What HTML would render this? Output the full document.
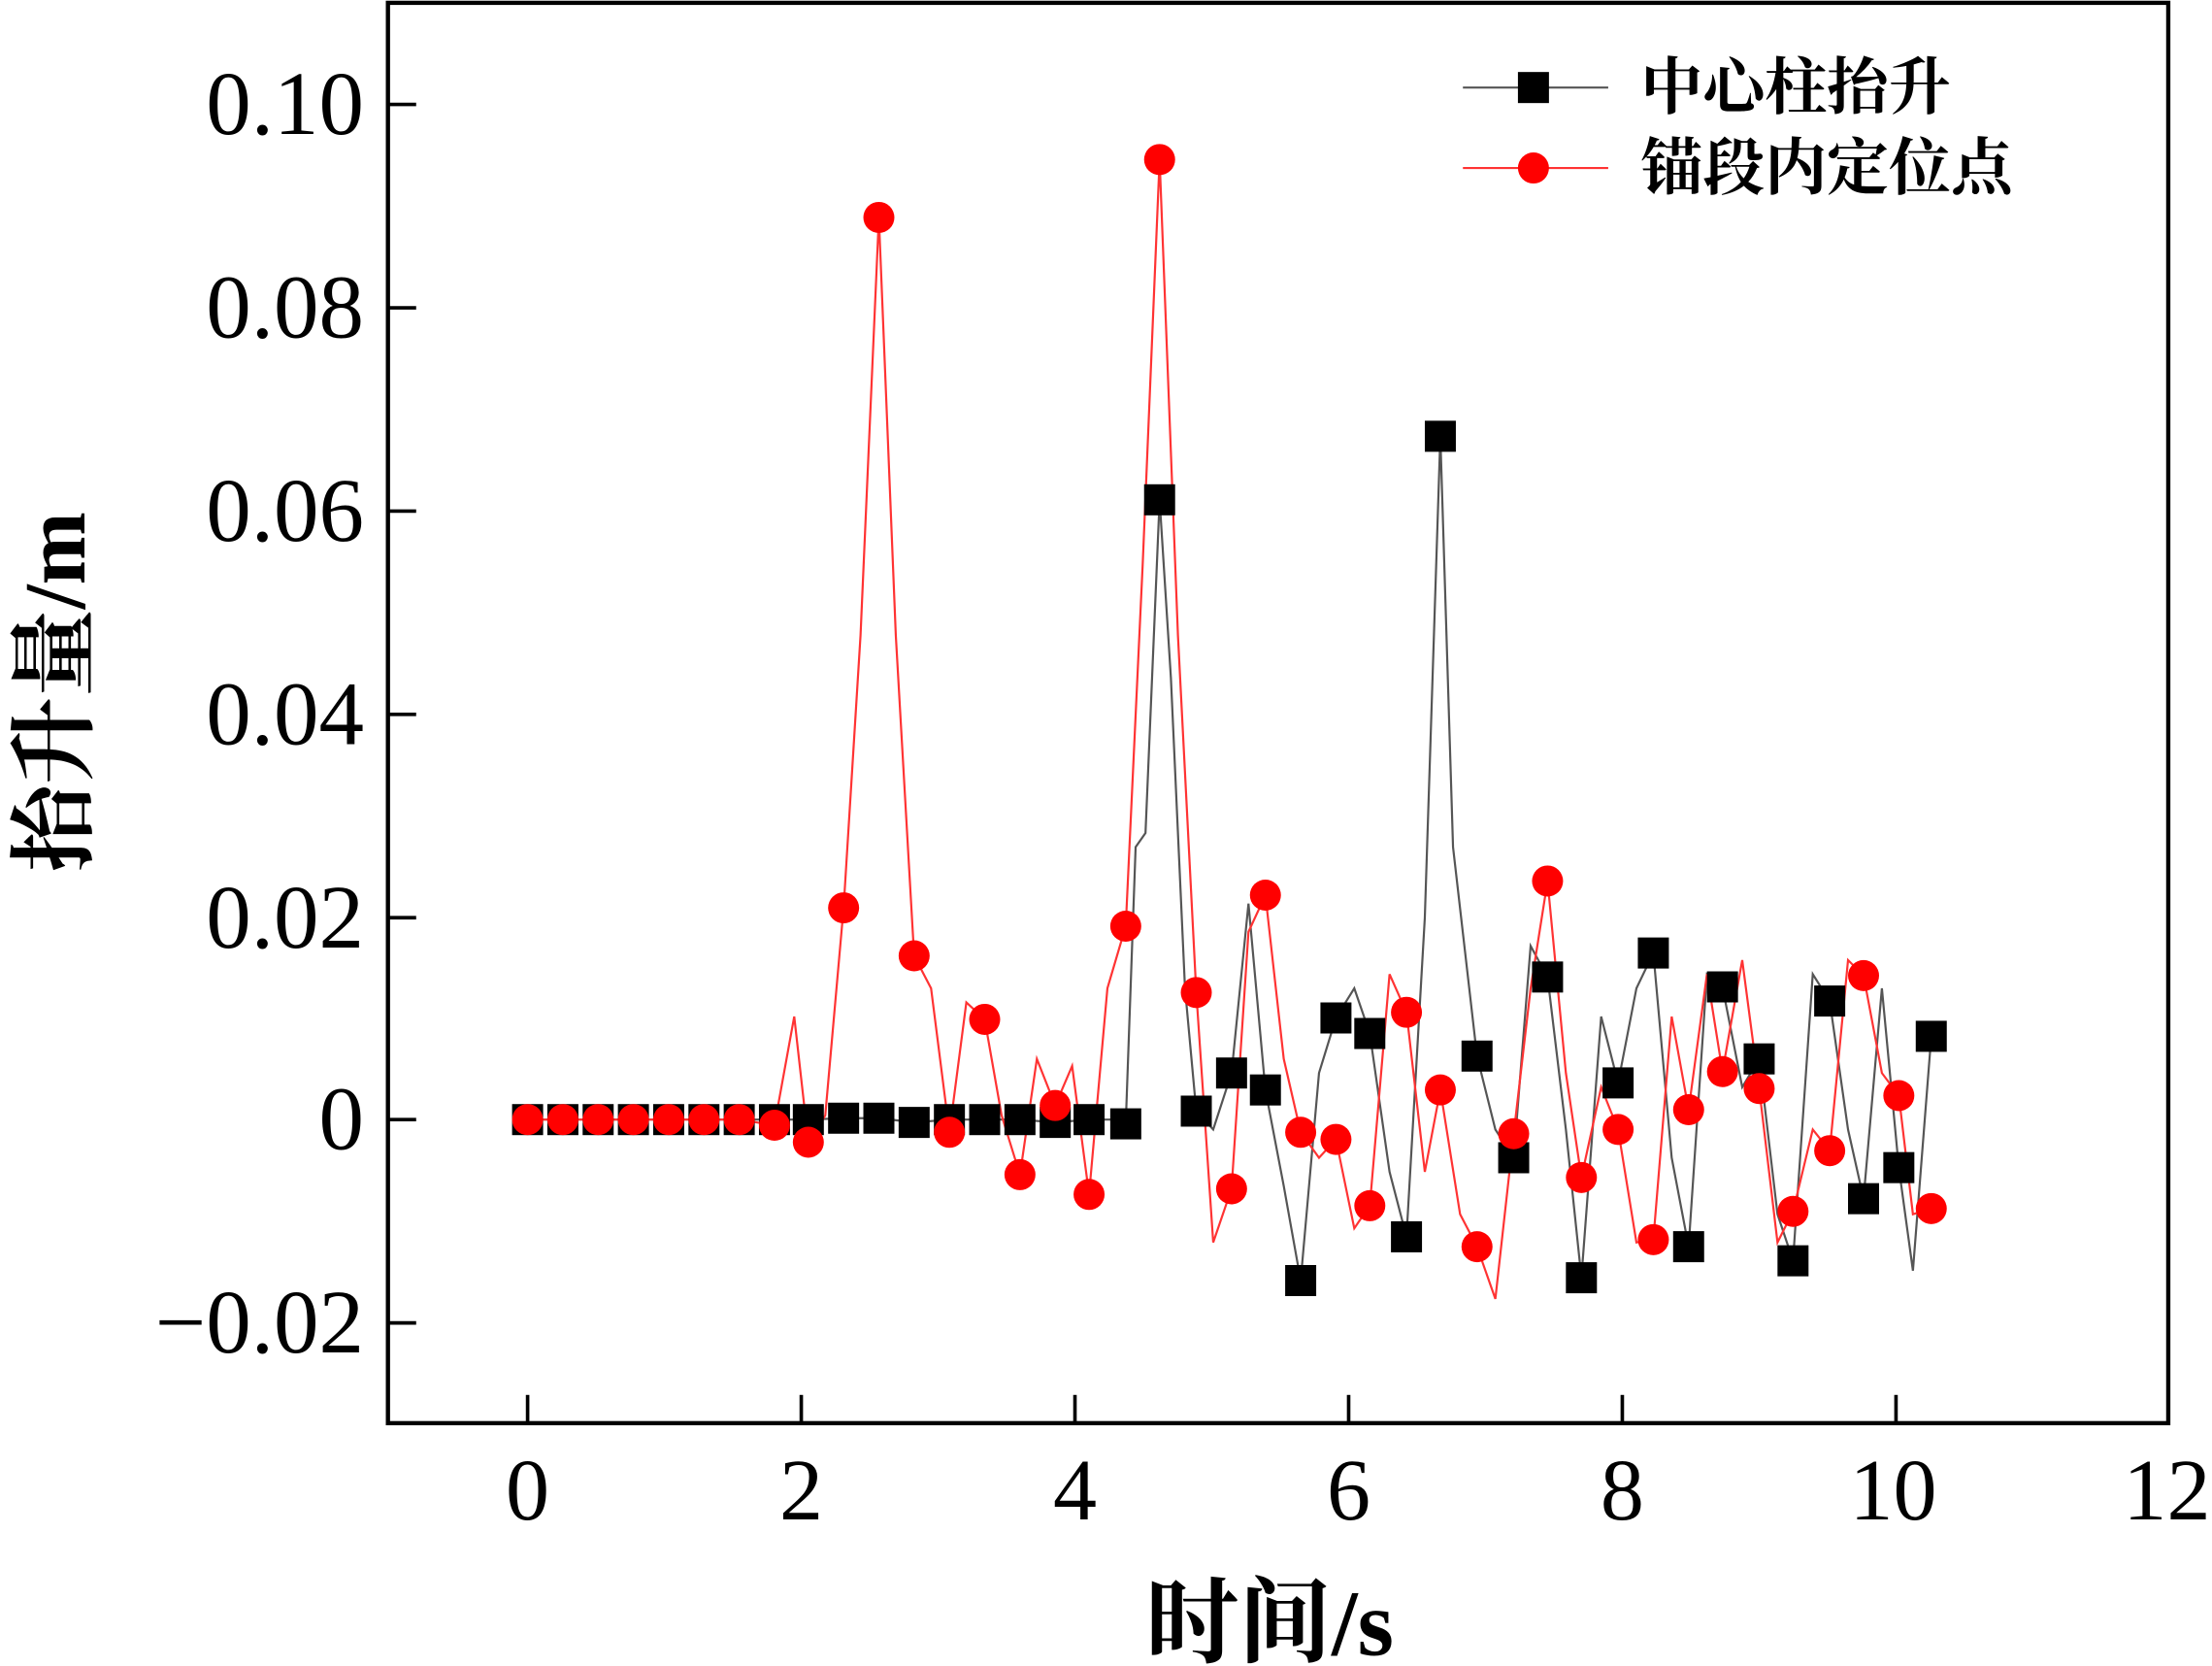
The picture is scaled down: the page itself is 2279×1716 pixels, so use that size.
<!DOCTYPE html>
<html><head><meta charset="utf-8"><style>
html,body{margin:0;padding:0;background:#fff;}
svg{display:block;}
text{font-family:"Liberation Serif","Noto Serif CJK SC",serif;fill:#000;}
.cj{font-family:"Liberation Serif","Noto Serif CJK SC",serif;font-weight:bold;}
</style></head><body>
<svg width="2279" height="1716" viewBox="0 0 1568 1180" preserveAspectRatio="none" xmlns="http://www.w3.org/2000/svg">
<rect x="275" y="2" width="1262" height="1006" fill="none" stroke="#000" stroke-width="3"/>
<g stroke="#000" stroke-width="2.5">
<line x1="374" y1="1008" x2="374" y2="988"/><line x1="568" y1="1008" x2="568" y2="988"/><line x1="762" y1="1008" x2="762" y2="988"/><line x1="956" y1="1008" x2="956" y2="988"/><line x1="1150" y1="1008" x2="1150" y2="988"/><line x1="1344" y1="1008" x2="1344" y2="988"/>
<line x1="275" y1="74" x2="295" y2="74"/><line x1="275" y1="218" x2="295" y2="218"/><line x1="275" y1="362" x2="295" y2="362"/><line x1="275" y1="506" x2="295" y2="506"/><line x1="275" y1="650" x2="295" y2="650"/><line x1="275" y1="793" x2="295" y2="793"/><line x1="275" y1="937" x2="295" y2="937"/>
</g>
<g font-size="62" text-anchor="middle">
<text x="374" y="1076">0</text><text x="568" y="1076">2</text><text x="762" y="1076">4</text><text x="956" y="1076">6</text><text x="1150" y="1076">8</text><text x="1342" y="1076">10</text><text x="1536" y="1076">12</text>
</g>
<g font-size="64" text-anchor="end">
<text x="258" y="95">0.10</text><text x="258" y="239">0.08</text><text x="258" y="383">0.06</text><text x="258" y="527">0.04</text><text x="258" y="671">0.02</text><text x="258" y="814">0</text><text x="258" y="958">−0.02</text>
</g>
<text class="cj" x="900" y="1172" font-size="66" text-anchor="middle">时间/s</text>
<text class="cj" x="0" y="0" font-size="62" text-anchor="middle" transform="translate(60,490) rotate(-90)">抬升量/m</text>
<polyline fill="none" stroke="#555" stroke-width="1.5" points="374,793 399,793 424,793 449,793 474,793 499,793 524,793 549,793 573,793 598,792 623,792 648,795 673,793 698,793 723,793 748,795 772,793 790,793 798,796 805,600 812,590 822,354 830,480 840,700 848,787 860,800 873,760 885,640 897,772 910,840 922,907 935,760 947,721 960,700 971,732 985,830 997,876 1010,650 1021,309 1030,600 1047,748 1060,800 1073,820 1085,670 1097,692 1110,800 1121,905 1135,720 1147,767 1160,700 1172,675 1185,820 1197,883 1210,690 1221,699 1235,770 1247,750 1260,860 1271,893 1285,690 1297,709 1310,800 1321,849 1334,700 1346,827 1356,900 1369,734"/>
<polyline fill="none" stroke="#f33" stroke-width="1.5" points="374,793 399,793 424,793 449,793 474,793 499,793 524,793 549,797 563,720 573,809 585,790 598,643 610,450 623,154 635,450 648,677 660,700 673,802 685,710 698,722 710,790 723,832 735,750 748,783 760,755 772,846 785,700 798,656 810,400 822,113 835,450 848,703 860,880 873,842 885,660 897,634 910,750 922,802 935,820 947,807 960,870 971,854 985,690 997,717 1010,830 1021,772 1035,860 1047,883 1060,920 1073,803 1085,700 1097,624 1110,760 1121,834 1135,770 1147,800 1160,880 1172,878 1185,720 1197,786 1210,690 1221,759 1235,680 1247,771 1260,880 1271,858 1285,800 1297,815 1310,680 1321,691 1334,760 1346,776 1356,860 1369,856"/>
<g fill="#000">
<rect x="363" y="782" width="22" height="22"/><rect x="388" y="782" width="22" height="22"/><rect x="413" y="782" width="22" height="22"/><rect x="438" y="782" width="22" height="22"/><rect x="463" y="782" width="22" height="22"/><rect x="488" y="782" width="22" height="22"/><rect x="513" y="782" width="22" height="22"/><rect x="538" y="782" width="22" height="22"/><rect x="562" y="782" width="22" height="22"/><rect x="587" y="781" width="22" height="22"/><rect x="612" y="781" width="22" height="22"/><rect x="637" y="784" width="22" height="22"/><rect x="662" y="782" width="22" height="22"/><rect x="687" y="782" width="22" height="22"/><rect x="712" y="782" width="22" height="22"/><rect x="737" y="784" width="22" height="22"/><rect x="761" y="782" width="22" height="22"/><rect x="787" y="785" width="22" height="22"/><rect x="811" y="343" width="22" height="22"/><rect x="837" y="776" width="22" height="22"/><rect x="862" y="749" width="22" height="22"/><rect x="886" y="761" width="22" height="22"/><rect x="911" y="896" width="22" height="22"/><rect x="936" y="710" width="22" height="22"/><rect x="960" y="721" width="22" height="22"/><rect x="986" y="865" width="22" height="22"/><rect x="1010" y="298" width="22" height="22"/><rect x="1036" y="737" width="22" height="22"/><rect x="1062" y="809" width="22" height="22"/><rect x="1086" y="681" width="22" height="22"/><rect x="1110" y="894" width="22" height="22"/><rect x="1136" y="756" width="22" height="22"/><rect x="1161" y="664" width="22" height="22"/><rect x="1186" y="872" width="22" height="22"/><rect x="1210" y="688" width="22" height="22"/><rect x="1236" y="739" width="22" height="22"/><rect x="1260" y="882" width="22" height="22"/><rect x="1286" y="698" width="22" height="22"/><rect x="1310" y="838" width="22" height="22"/><rect x="1335" y="816" width="22" height="22"/><rect x="1358" y="723" width="22" height="22"/>
</g>
<g fill="#f00">
<circle cx="374" cy="793" r="11"/><circle cx="399" cy="793" r="11"/><circle cx="424" cy="793" r="11"/><circle cx="449" cy="793" r="11"/><circle cx="474" cy="793" r="11"/><circle cx="499" cy="793" r="11"/><circle cx="524" cy="793" r="11"/><circle cx="549" cy="797" r="11"/><circle cx="573" cy="809" r="11"/><circle cx="598" cy="643" r="11"/><circle cx="623" cy="154" r="11"/><circle cx="648" cy="677" r="11"/><circle cx="673" cy="802" r="11"/><circle cx="698" cy="722" r="11"/><circle cx="723" cy="832" r="11"/><circle cx="748" cy="783" r="11"/><circle cx="772" cy="846" r="11"/><circle cx="798" cy="656" r="11"/><circle cx="822" cy="113" r="11"/><circle cx="848" cy="703" r="11"/><circle cx="873" cy="842" r="11"/><circle cx="897" cy="634" r="11"/><circle cx="922" cy="802" r="11"/><circle cx="947" cy="807" r="11"/><circle cx="971" cy="854" r="11"/><circle cx="997" cy="717" r="11"/><circle cx="1021" cy="772" r="11"/><circle cx="1047" cy="883" r="11"/><circle cx="1073" cy="803" r="11"/><circle cx="1097" cy="624" r="11"/><circle cx="1121" cy="834" r="11"/><circle cx="1147" cy="800" r="11"/><circle cx="1172" cy="878" r="11"/><circle cx="1197" cy="786" r="11"/><circle cx="1221" cy="759" r="11"/><circle cx="1247" cy="771" r="11"/><circle cx="1271" cy="858" r="11"/><circle cx="1297" cy="815" r="11"/><circle cx="1321" cy="691" r="11"/><circle cx="1346" cy="776" r="11"/><circle cx="1369" cy="856" r="11"/>
</g>
<line x1="1037" y1="62" x2="1140" y2="62" stroke="#555" stroke-width="1.5"/>
<rect x="1076" y="51" width="22" height="22" fill="#000"/>
<line x1="1037" y1="119" x2="1140" y2="119" stroke="#f33" stroke-width="1.5"/>
<circle cx="1087" cy="119" r="11" fill="#f00"/>
<text class="cj" x="1163" y="77" font-size="44">中心柱抬升</text>
<text class="cj" x="1163" y="134" font-size="44">锚段内定位点</text>
</svg>
</body></html>
